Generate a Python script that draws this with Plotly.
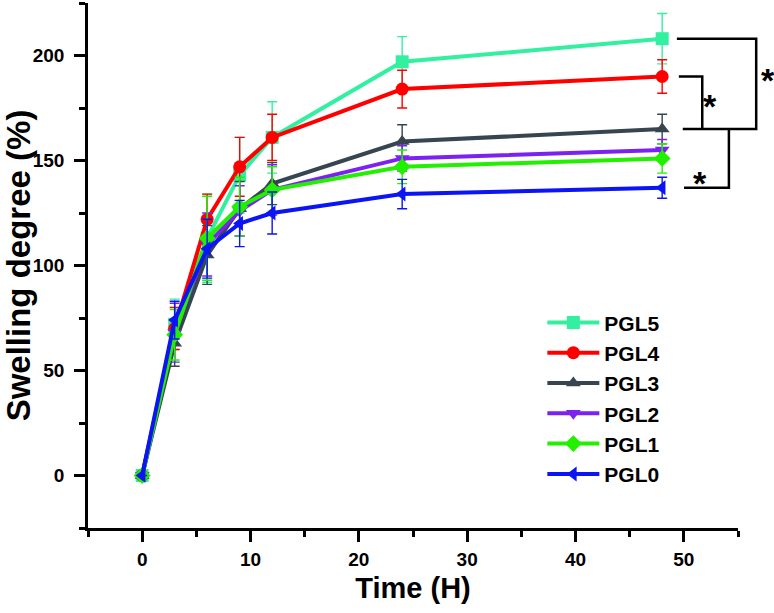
import plotly.graph_objects as go

time_h = [0, 3, 6, 9, 12, 24, 48]
series_names = ["PGL5", "PGL4", "PGL3", "PGL2", "PGL1", "PGL0"]
pgl5 = [0, 72, 113, 143, 161, 197, 208]
pgl4 = [0, 70, 122, 147, 161, 184, 190]
pgl3 = [0, 63, 105, 127, 139, 159, 165]
pgl2 = [0, 68, 110, 126, 136, 151, 155]
pgl1 = [0, 67, 113, 128, 136, 147, 151]
pgl0 = [0, 74, 108, 120, 125, 134, 137]
err5 = [0, 12, 21, 18, 17, 12, 12]
err4 = [0, 10, 12, 14, 11, 9, 8]
err3 = [0, 11, 14, 13, 10, 8, 7]
err2 = [0, 14, 15, 12, 12, 6, 5]
err1 = [0, 12, 20, 14, 11, 8, 7]
err0 = [0, 9, 14, 11, 10, 7, 5]

values = [pgl5, pgl4, pgl3, pgl2, pgl1, pgl0]
errors = [err5, err4, err3, err2, err1, err0]
colors = ["#33F0A0", "#FF0000", "#36454F", "#7B22F2", "#22F000", "#0A14F5"]
symbols = ["square", "circle", "triangle-up", "triangle-down", "diamond", "triangle-left"]

FONT = "Liberation Sans, Arial, sans-serif"
YR = [-25, 225]

fig = go.Figure()
for name, v, e, c, s in zip(series_names, values, errors, colors, symbols):
    fig.add_trace(go.Scatter(
        x=time_h, y=v, name=name, mode="lines+markers",
        line=dict(color=c, width=4),
        marker=dict(symbol=s, size=13, color=c),
        error_y=dict(type="data", array=e, visible=True, color=c, thickness=1.4, width=5),
    ))

def ypaper(val):
    return (val - YR[0]) / (YR[1] - YR[0])

top5, top4, top3, top0 = pgl5[-1], pgl4[-1], pgl3[-1], pgl0[-1]
bk = dict(color="black", width=2.5)
paths = [
    [(0.906, top5), (1.028, top5), (1.028, top3), (0.915, top3)],
    [(0.909, top4), (0.945, top4), (0.945, top3)],
    [(0.986, top3), (0.986, top0), (0.917, top0)],
]
shapes = [dict(type="path", xref="paper", yref="paper",
               path="M " + " L ".join(f"{x},{ypaper(y)}" for x, y in p),
               line=bk) for p in paths]

stars = [(1.06, 198.5), (0.971, 186), (0.955, 139.5)]
annotations = [dict(x=x, y=ypaper(y), xref="paper", yref="paper", text="*", showarrow=False,
                    font=dict(family=FONT, size=34, color="black", weight="bold"))
               for x, y in stars]

fig.update_layout(
    width=774, height=613,
    margin=dict(l=88, r=36, t=3, b=85, autoexpand=False),
    plot_bgcolor="white", paper_bgcolor="white",
    font=dict(family=FONT, color="black"),
    showlegend=True,
    legend=dict(x=0.699, y=0.43, xanchor="left", yanchor="top",
                font=dict(family=FONT, size=21, color="black", weight="bold"),
                itemwidth=52, bgcolor="rgba(0,0,0,0)", tracegroupgap=0),
    shapes=shapes, annotations=annotations,
    xaxis=dict(range=[-5, 55], dtick=10, tick0=0, showline=True, linecolor="black", linewidth=2.5,
               ticks="outside", ticklen=11, tickwidth=2.5, tickcolor="black", automargin=False,
               minor=dict(dtick=5, ticks="outside", ticklen=6, tickwidth=2.5, tickcolor="black"),
               showgrid=False, zeroline=False, ticklabelstandoff=1,
               tickfont=dict(family=FONT, size=19, weight="bold"),
               title=dict(text="Time (H)", font=dict(family=FONT, size=29, weight="bold"), standoff=10)),
    yaxis=dict(range=YR, dtick=50, tick0=0, showline=True, linecolor="black", linewidth=2.5,
               ticks="outside", ticklen=11, tickwidth=2.5, tickcolor="black", automargin=False,
               minor=dict(dtick=25, ticks="outside", ticklen=6, tickwidth=2.5, tickcolor="black"),
               showgrid=False, zeroline=False, ticklabelstandoff=6,
               tickfont=dict(family=FONT, size=19, weight="bold"),
               title=dict(text="Swelling degree (%)", font=dict(family=FONT, size=33, weight="bold"), standoff=7)),
)

fig.write_html("out.html", config={"displayModeBar": False},
               post_script="document.body.style.margin='0';document.body.style.padding='0';document.body.style.overflow='hidden';")
